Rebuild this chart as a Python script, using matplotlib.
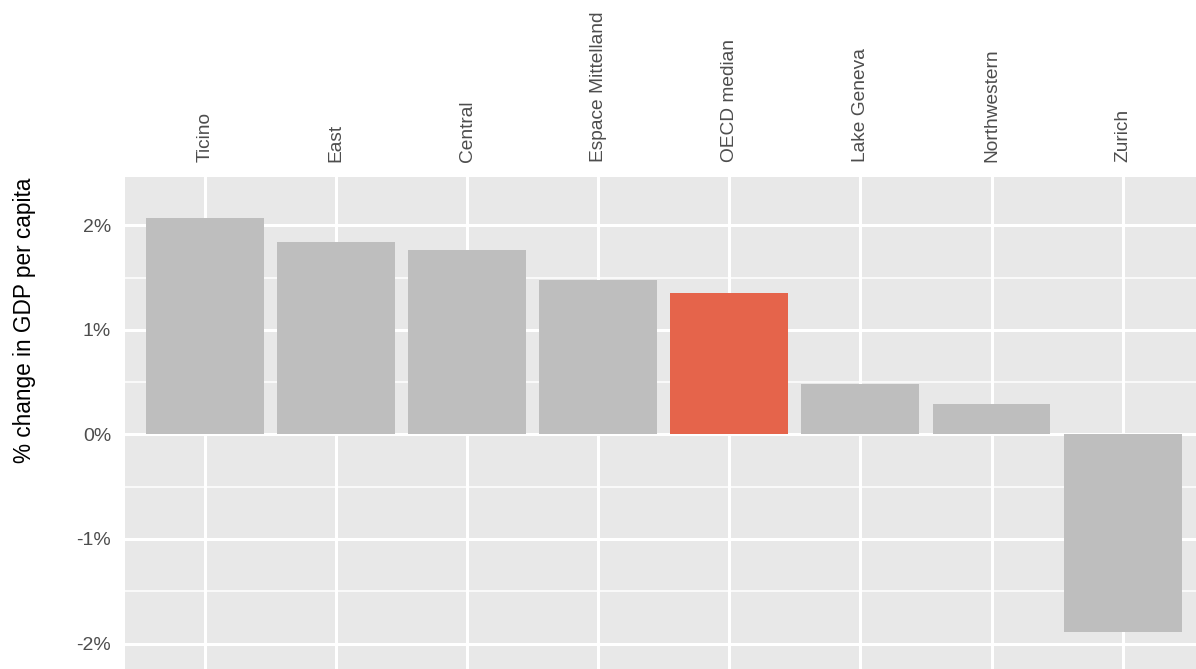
import numpy as np
from matplotlib import pyplot as plt
from matplotlib.ticker import MultipleLocator, FuncFormatter

# regions, sorted by growth
regions = ["Ticino", "East", "Central", "Espace Mittelland", "OECD median",
           "Lake Geneva", "Northwestern", "Zurich"]
growth = [2.07, 1.84, 1.765, 1.478, 1.354, 0.483, 0.292, -1.887]
highlight = "OECD median"

plt.rcParams['font.family'] = ['Liberation Sans', 'DejaVu Sans']

fig = plt.figure(figsize=(11.96, 6.69), dpi=100)
ax = fig.add_axes([125/1196, 0, 1 - 125/1196, (669-177)/669])

x = np.arange(len(regions))
cols = ["#e5644b" if r == highlight else "#bebebe" for r in regions]
ax.bar(x, growth, width=0.9, color=cols, zorder=2)

ax.set_facecolor("#e8e8e8")
for s in ax.spines.values():
    s.set_visible(False)
ax.yaxis.set_major_locator(MultipleLocator(1))
ax.yaxis.set_minor_locator(MultipleLocator(0.5))
ax.yaxis.set_major_formatter(FuncFormatter(lambda v, p: f"{v:.0f}%"))
ax.grid(which="major", color="white", lw=2.2, zorder=0)
ax.grid(which="minor", axis="y", color="white", lw=1.1, zorder=0)
ax.set_axisbelow(True)

ax.set_xticks(x)
ax.set_xticklabels(regions, rotation=90)
ax.xaxis.tick_top()
ax.tick_params(axis="x", length=0, pad=11, labelsize=13.8, labelcolor="#4d4d4d")
ax.tick_params(axis="y", which="both", length=0, pad=10, labelsize=14, labelcolor="#4d4d4d")

ax.set_xlim(-0.61, len(regions) - 1 + 0.56)
ax.set_ylim(-2.244, 2.464)
ax.set_ylabel("% change in GDP per capita", fontsize=16.3)
ax.yaxis.set_label_coords(-0.083, 0.709)

fig.savefig("out.png", dpi=100)
